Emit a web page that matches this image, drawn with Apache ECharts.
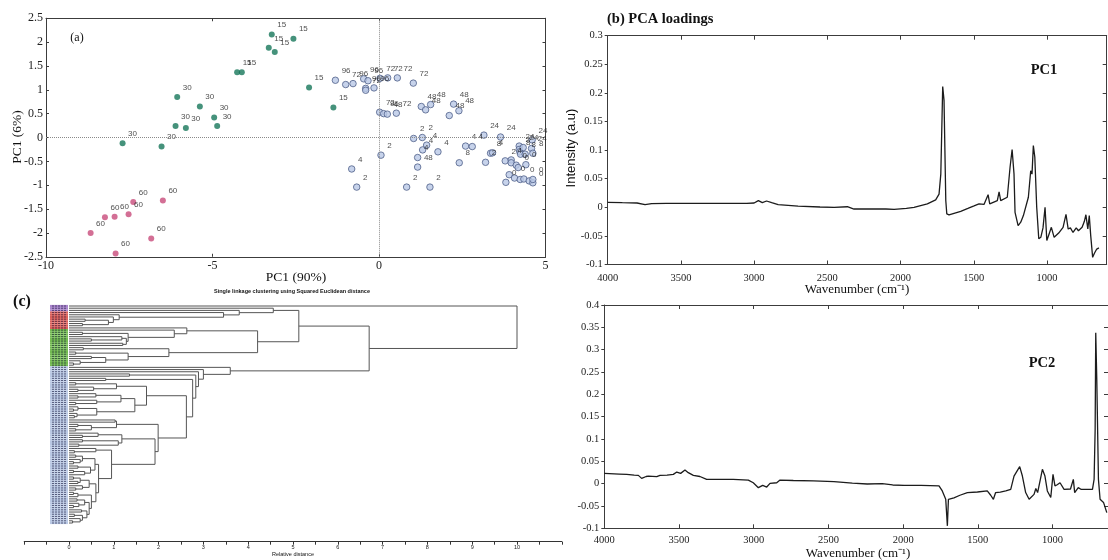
<!DOCTYPE html>
<html><head><meta charset="utf-8">
<script src="https://cdn.jsdelivr.net/npm/echarts@6/dist/echarts.min.js"></script>
<style>html,body{margin:0;padding:0;background:#fff}#c{width:1108px;height:560px}</style>
</head><body><div id="c"></div><script>
// ---------------- DATA ----------------
// (a) PCA scores: [PC1, PC2, time label]
const scoresGreen = [
 [-7.70,-0.12,'30'],[-6.53,-0.19,'30'],[-6.11,0.24,'30'],[-6.06,0.85,'30'],[-5.80,0.20,'30'],[-5.38,0.65,'30'],[-4.95,0.42,'30'],[-4.86,0.24,'30'],
 [-4.26,1.37,'15'],[-4.12,1.37,'15'],[-3.31,1.88,'15'],[-3.22,2.16,'15'],[-3.13,1.79,'15'],[-2.57,2.07,'15'],[-2.10,1.05,'15'],[-1.37,0.63,'15']
];
const scoresPink = [
 [-8.66,-2.00,'60'],[-8.23,-1.67,'60'],[-7.94,-1.66,'60'],[-7.52,-1.61,'60'],[-7.38,-1.35,'60'],[-6.49,-1.32,'60'],[-6.84,-2.12,'60'],[-7.91,-2.43,'60']
];
const scoresBlue = [
 [-1.31,1.20,'96'],[-1.00,1.11,'72'],[-0.78,1.13,'96'],[-0.46,1.23,'96'],[-0.33,1.19,'96'],[-0.40,1.03,'96'],[-0.40,0.99,'72'],[-0.15,1.04,'96'],
 [0.03,1.24,'72'],[0.26,1.25,'72'],[0.55,1.25,'72'],[1.03,1.14,'72'],
 [0.02,0.53,'72'],[0.14,0.50,'96'],[0.25,0.49,'48'],[0.52,0.51,'72'],[1.27,0.65,'48'],[1.40,0.58,'48'],[1.55,0.69,'48'],[2.11,0.46,'48'],[2.24,0.70,'48'],[2.40,0.56,'48'],
 [1.04,-0.02,'2'],[1.30,0.00,'2'],[1.43,-0.16,'4'],[1.31,-0.26,'4'],[1.16,-0.42,'4'],[1.16,-0.62,'48'],[1.77,-0.30,'4'],[0.06,-0.37,'2'],
 [-0.82,-0.66,'4'],[-0.67,-1.04,'2'],[0.83,-1.04,'2'],[1.53,-1.04,'2'],[2.60,-0.18,'4'],[2.80,-0.19,'4'],[2.41,-0.53,'8'],
 [3.15,0.05,'24'],[3.65,0.01,'24'],[3.20,-0.52,'2'],[3.35,-0.33,'8'],[3.41,-0.32,'4'],
 [3.81,-0.94,'0'],[3.79,-0.49,'2'],[3.91,-0.78,''],[4.07,-0.85,'0'],[4.24,-0.88,''],[4.35,-0.87,'0'],[4.51,-0.91,''],[4.62,-0.95,'0'],[4.62,-0.88,'0'],
 [3.97,-0.47,'4'],[3.97,-0.53,''],[4.12,-0.58,'0'],[4.18,-0.63,'0'],[4.41,-0.57,'0'],
 [4.21,-0.18,'24'],[4.21,-0.25,'2'],[4.23,-0.30,'8'],[4.25,-0.35,''],[4.33,-0.21,'24'],[4.39,-0.35,'8'],[4.58,-0.23,'24'],[4.62,-0.33,'8'],[4.60,-0.05,'24']
];
// (b) PCA loadings: [wavenumber, intensity]
const loadingPC1 = [
 [4000,0.0087],[3900,0.008],[3800,0.0075],[3745,0.0047],[3700,0.0065],[3600,0.0068],[3500,0.007],[3300,0.0068],[3050,0.0068],[3000,0.0075],
 [2971,0.0117],[2944,0.0082],[2915,0.011],[2880,0.008],[2836,0.0047],[2700,0.002],[2550,0.0005],[2454,0],[2363,0.001],[2318,-0.003],
 [2158,-0.003],[2148,-0.001],[2100,-0.003],[2044,-0.0035],[1960,-0.002],[1908,0],[1817,0.006],[1760,0.013],[1737,0.023],[1725,0.058],
 [1712,0.211],[1703,0.187],[1691,0.012],[1684,-0.0116],[1669,-0.0133],[1589,-0.007],[1540,-0.002],[1498,0.0024],[1464,0.006],[1430,0.005],
 [1402,0.022],[1391,0.006],[1339,0.0117],[1327,0.027],[1316,0.0117],[1271,0.0175],[1260,0.0175],[1252,0.07],[1238,0.101],[1225,0.058],
 [1218,-0.0087],[1197,-0.032],[1179,-0.026],[1161,-0.0145],[1127,0.0175],[1111,0.064],[1102,0.058],[1093,0.108],[1083,0.088],[1070,0.0],
 [1056,-0.055],[1042,-0.0525],[1027,-0.036],[1013,0.0],[1001,-0.058],[986,-0.047],[970,-0.035],[951,-0.0525],[920,-0.045],[890,-0.035],
 [870,-0.0125],[855,-0.038],[840,-0.036],[822,-0.044],[800,-0.036],[785,-0.041],[760,-0.035],[745,-0.025],[734,-0.013],[721,-0.038],
 [711,-0.0145],[701,-0.05],[688,-0.0875],[675,-0.08],[660,-0.073],[645,-0.071]
];
const loadingPC2 = [
 [4000,0.023],[3900,0.0215],[3850,0.0207],[3800,0.019],[3772,0.0185],[3750,0.0118],[3720,0.016],[3705,0.017],[3649,0.0156],[3627,0.0185],
 [3580,0.019],[3538,0.0207],[3515,0.026],[3489,0.023],[3460,0.0304],[3438,0.0245],[3404,0.0185],[3360,0.016],[3315,0.0096],[3200,0.0096],
 [3137,0.0096],[3036,0.008],[3003,0.002],[2969,-0.009],[2940,-0.0038],[2913,-0.0076],[2891,0.0007],[2846,0.002],[2824,0.008],[2735,0.007],
 [2600,0.006],[2463,0.0045],[2340,0.001],[2240,-0.0008],[2140,0.0],[2070,-0.003],[1994,-0.0038],[1880,-0.004],[1760,-0.005],[1738,-0.0164],
 [1715,-0.035],[1704,-0.0945],[1697,-0.035],[1688,-0.033],[1660,-0.032],[1620,-0.026],[1570,-0.02],[1503,-0.0187],[1437,-0.0164],[1414,-0.026],
 [1396,-0.035],[1381,-0.02],[1350,-0.019],[1313,-0.0164],[1280,-0.0127],[1258,0.017],[1246,0.014],[1220,0.038],[1202,0.017],[1180,-0.02],
 [1157,-0.035],[1124,-0.024],[1112,-0.011],[1100,-0.02],[1068,0.032],[1051,0.017],[1035,-0.0164],[1012,-0.031],[997,0.0207],[984,-0.005],
 [969,-0.0025],[950,0.002],[923,-0.0127],[880,-0.012],[861,0.0096],[852,-0.02],[828,-0.009],[808,-0.013],[760,-0.013],[733,-0.0127],
 [722,0.0096],[715,0.121],[711,0.338],[704,0.232],[693,0.0096],[682,-0.035],[659,-0.042],[637,-0.065]
];
const wavenumberTicks = [1000,1500,2000,2500,3000,3500,4000];
// (c) single linkage dendrogram: [height, childA, childB]; leaf = group key
const redCluster = [1.12,'r',[0.99,'r',[0.88,[0.36,'r','r'],[0.3,'r','r']]]];
const greenCluster1 = [2.35,'g',[1.32,[0.3,'g','g'],[1.28,[1.18,'g',[0.5,'g','g']],[1.2,'g','g']]]];
const greenCluster2 = [2.23,[0.32,'g','g'],[1.32,[0.15,'g','g'],[0.82,[0.5,'g','g'],[0.25,'g',[0.1,'g','g']]]]];
const blueUpper = [1.73,[1.06,[0.15,'b','b'],[0.55,'b',[0.2,'b','b']]],[1.47,[1.16,[0.6,'b',[0.2,'b','b']],[0.62,'b',[0.15,'b','b']]],[0.62,[0.2,'b',[0.1,'b','b']],[0.18,'b',[0.12,'b','b']]]]];
const blueLowerA = [0.58,[0.3,[0.15,'b','b'],[0.25,'b',[0.1,'b','b']]],[0.48,[0.2,'b','b'],[0.35,[0.1,'b','b'],'b']]];
const blueLowerB = [0.6,[0.45,[0.25,[0.1,'b','b'],[0.2,'b','b']],[0.3,'b',[0.15,'b','b']]],[0.5,[0.2,[0.1,'b','b'],'b'],[0.45,[0.35,[0.18,'b','b'],[0.22,'b',[0.1,'b','b']]],[0.4,[0.28,'b','b'],[0.3,[0.12,'b','b'],[0.25,'b',[0.08,'b','b']]]]]]];
const blueLower = [1.99,[1.06,[1.03,'b','b'],[0.5,[0.2,'b','b'],[0.15,'b','b']]],[1.92,[1.18,[0.65,'b',[0.3,'b','b']],[1.1,[0.3,'b','b'],[0.22,'b','b']]],[0.95,[0.6,'b',[0.12,'b','b']],[0.66,blueLowerA,blueLowerB]]]];
const blueCluster = [3.6,'b',[3.0,'b',[2.89,'b',[2.83,[1.35,'b','b'],[2.76,[0.82,'b','b'],[2.62,blueUpper,blueLower]]]]]];
const dendroTree = [10,'p',[6.7,[5.13,[4.56,'p',[3.8,'p',[3.45,'r',redCluster]]],[4.21,[2.63,'r',greenCluster1],greenCluster2]],blueCluster]];
const leafGroups = ['p','r','g','b'];
const leafPalette = ['#a983cc','#dc5f5a','#72bb50','#b9c8e4'];

// ---------------- BUILD ----------------
const SERIF = '"Liberation Serif","Times New Roman",serif';
const SANS = '"Liberation Sans",Arial,sans-serif';
const leaves = [];
const segs = [];
function layout(node){
  if (typeof node === 'string'){ const i = leaves.length; leaves.push([i, leafGroups.indexOf(node)]); return {y:i, h:0}; }
  const h = node[0];
  const a = layout(node[1]), b = layout(node[2]);
  segs.push({coords:[[a.h,a.y],[h,a.y],[h,b.y],[b.h,b.y]]});
  return {y:(a.y+b.y)/2, h:h};
}
layout(dendroTree);
const N = leaves.length;
const sp = 217/(N-1);
const dMin = -6/sp, dMax = (N-1) + 18.7/sp;

const ax = '#3c3c3c';
function xa(gi, pos, min, max, o){ return Object.assign({gridIndex:gi, type:'value', position:pos, min:min, max:max,
  axisLine:{show:true, onZero:false, lineStyle:{color:ax, width:1}}, axisTick:{show:true, inside:true, length:4, lineStyle:{color:ax}},
  axisLabel:{show:pos==='bottom'||pos==='left', fontFamily:SERIF, fontSize:10.5, color:'#222'}, splitLine:{show:false}}, o); }

const labelCfg = {show:true, formatter:p=>p.data[2], position:'right', distance:2.5, offset:[0,-9.5], fontFamily:SANS, fontSize:8, color:'#222'};

const option = {
  animation:false,
  grid:[
    {left:46, top:18.25, width:499.5, height:238.5},
    {left:607.7, top:35.7, width:499, height:228.8},
    {left:604.3, top:305, width:503.7, height:223.3},
    {left:24.2, top:300, width:537.6, height:241.7}
  ],
  xAxis:[
    xa(0,'bottom',-10,5,{interval:5, axisTick:{inside:true,length:3,lineStyle:{color:ax}}, axisLabel:{margin:3, fontFamily:SERIF, fontSize:12, color:'#222'}}),
    xa(0,'top',-10,5,{interval:5, axisTick:{inside:true,length:3,lineStyle:{color:ax}}, axisLabel:{show:false}}),
    xa(1,'bottom',592,4000,{inverse:true, axisTick:{inside:true,length:4,customValues:wavenumberTicks,lineStyle:{color:ax}}, axisLabel:{customValues:wavenumberTicks, formatter:v=>String(v), margin:8, fontFamily:SERIF, fontSize:10.5, color:'#222'}}),
    xa(1,'top',592,4000,{inverse:true, axisTick:{inside:true,length:4,customValues:wavenumberTicks,lineStyle:{color:ax}}, axisLabel:{show:false}}),
    xa(2,'bottom',629,4000,{inverse:true, axisTick:{inside:true,length:4,customValues:wavenumberTicks,lineStyle:{color:ax}}, axisLabel:{customValues:wavenumberTicks, formatter:v=>String(v), margin:6, fontFamily:SERIF, fontSize:10.5, color:'#222'}}),
    xa(2,'top',629,4000,{inverse:true, axisTick:{inside:true,length:4,customValues:wavenumberTicks,lineStyle:{color:ax}}, axisLabel:{show:false}}),
    {gridIndex:3, type:'value', position:'bottom', min:-1, max:11, interval:1,
     axisLine:{show:true, onZero:false, lineStyle:{color:'#333'}}, axisTick:{show:true, inside:false, length:3, lineStyle:{color:'#333'}},
     minorTick:{show:true, splitNumber:2, length:3, lineStyle:{color:'#333'}},
     axisLabel:{margin:3, fontFamily:SANS, fontSize:5.5, color:'#222', formatter:v=>(v>=0&&v<=10)?String(v):''},
     splitLine:{show:false}, minorSplitLine:{show:false}}
  ],
  yAxis:[
    xa(0,'left',-2.5,2.5,{interval:0.5, axisTick:{inside:true,length:3,lineStyle:{color:ax}}, axisLabel:{margin:3, fontFamily:SERIF, fontSize:12, color:'#222'}}),
    xa(0,'right',-2.5,2.5,{interval:0.5, axisTick:{inside:true,length:3,lineStyle:{color:ax}}, axisLabel:{show:false}}),
    xa(1,'left',-0.1,0.3,{interval:0.05, axisTick:{inside:false,length:3,lineStyle:{color:ax}}, axisLabel:{margin:5, fontFamily:SERIF, fontSize:10.5, color:'#222'}}),
    xa(1,'right',-0.1,0.3,{interval:0.05, axisTick:{inside:true,length:4,lineStyle:{color:ax}}, axisLabel:{show:false}}),
    xa(2,'left',-0.1,0.4,{interval:0.05, axisTick:{inside:false,length:3,lineStyle:{color:ax}}, axisLabel:{margin:5, fontFamily:SERIF, fontSize:10.5, color:'#222'}}),
    xa(2,'right',-0.1,0.4,{interval:0.05, axisTick:{inside:true,length:4,lineStyle:{color:ax}}, axisLabel:{show:false}}),
    {gridIndex:3, type:'value', inverse:true, min:dMin, max:dMax, show:false}
  ],
  series:[
    {type:'scatter', xAxisIndex:0, yAxisIndex:0, data:[], z:1, silent:true,
     markLine:{silent:true, symbol:'none', label:{show:false}, lineStyle:{color:'#8a8a8a', type:'dotted', width:1},
       data:[{xAxis:0},{yAxis:0}]}},
    {type:'scatter', xAxisIndex:0, yAxisIndex:0, data:scoresBlue, symbolSize:6.5, z:3,
     itemStyle:{color:'#b9c8e6', borderColor:'#4f5f88', borderWidth:1}, label:labelCfg},
    {type:'scatter', xAxisIndex:0, yAxisIndex:0, data:scoresGreen, symbolSize:6, z:3,
     itemStyle:{color:'#17775a'}, label:labelCfg},
    {type:'scatter', xAxisIndex:0, yAxisIndex:0, data:scoresPink, symbolSize:6, z:3,
     itemStyle:{color:'#c84b7b'}, label:labelCfg},
    {type:'line', xAxisIndex:2, yAxisIndex:2, data:loadingPC1, showSymbol:false, lineStyle:{color:'#1c1c1c', width:1.3}},
    {type:'line', xAxisIndex:4, yAxisIndex:4, data:loadingPC2, showSymbol:false, lineStyle:{color:'#1c1c1c', width:1.3}},
    {type:'custom', xAxisIndex:6, yAxisIndex:6, data:leaves, silent:true,
     renderItem:(params, api)=>{
       const i = api.value(0);
       const p0 = api.coord([-0.424, i-0.5]);
       const p1 = api.coord([-0.022, i+0.5]);
       const y0 = Math.min(p0[1],p1[1]), hh = Math.abs(p1[1]-p0[1]);
       return {type:'group', children:[
         {type:'rect', shape:{x:p0[0], y:y0, width:p1[0]-p0[0], height:hh}, style:{fill:leafPalette[api.value(1)]}},
         {type:'line', shape:{x1:p0[0]+2, y1:y0+hh/2, x2:p1[0]-1.5, y2:y0+hh/2}, style:{stroke:'rgba(20,20,55,0.6)', lineWidth:1, lineDash:[2,1]}}
       ]};
     }},
    {type:'lines', coordinateSystem:'cartesian2d', xAxisIndex:6, yAxisIndex:6, polyline:true, data:segs, silent:true,
     lineStyle:{color:'#555', width:1, opacity:1}}
  ],
  graphic:[
    {type:'text', x:77, y:38, style:{text:'(a)', font:'12px '+SERIF, fill:'#111', align:'center', verticalAlign:'middle'}},
    {type:'text', x:17, y:137, rotation:Math.PI/2, style:{text:'PC1 (6%)', font:'13.5px '+SERIF, fill:'#111', align:'center', verticalAlign:'middle'}},
    {type:'text', x:296, y:277, style:{text:'PC1 (90%)', font:'13.5px '+SERIF, fill:'#111', align:'center', verticalAlign:'middle'}},
    {type:'text', x:607, y:19, style:{text:'(b) PCA loadings', font:'bold 14.5px '+SERIF, fill:'#111', align:'left', verticalAlign:'middle'}},
    {type:'text', x:571, y:148, rotation:Math.PI/2, style:{text:'Intensity (a.u)', font:'13px '+SANS, fill:'#111', align:'center', verticalAlign:'middle'}},
    {type:'text', x:1044, y:70, style:{text:'PC1', font:'bold 14.5px '+SERIF, fill:'#111', align:'center', verticalAlign:'middle'}},
    {type:'text', x:1042, y:363, style:{text:'PC2', font:'bold 14.5px '+SERIF, fill:'#111', align:'center', verticalAlign:'middle'}},
    {type:'text', x:857, y:290, style:{text:'Wavenumber (cm\u207B\u00B9)', font:'13px '+SERIF, fill:'#111', align:'center', verticalAlign:'middle'}},
    {type:'text', x:858, y:554, style:{text:'Wavenumber (cm\u207B\u00B9)', font:'13px '+SERIF, fill:'#111', align:'center', verticalAlign:'middle'}},
    {type:'text', x:22, y:302, style:{text:'(c)', font:'bold 16px '+SERIF, fill:'#111', align:'center', verticalAlign:'middle'}},
    {type:'text', x:292, y:291, style:{text:'Single linkage clustering using Squared Euclidean distance', font:'bold 5.5px '+SANS, fill:'#111', align:'center', verticalAlign:'middle'}},
    {type:'text', x:293, y:554, style:{text:'Relative distance', font:'5.5px '+SANS, fill:'#111', align:'center', verticalAlign:'middle'}}
  ]
};
const chart = echarts.init(document.getElementById('c'), null, {renderer:'canvas', width:1108, height:560});
chart.setOption(option);
</script></body></html>
